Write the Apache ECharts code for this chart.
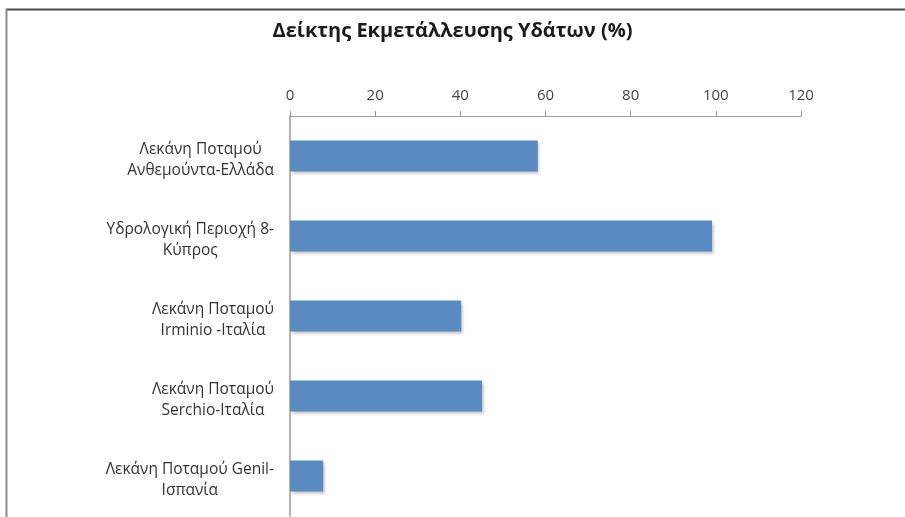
<!DOCTYPE html>
<html>
<head>
<meta charset="utf-8">
<script src="https://cdn.jsdelivr.net/npm/echarts@6/dist/echarts.min.js"></script>
<style>
  html, body { margin: 0; padding: 0; background: #fff; }
  #chart { width: 905px; height: 517px; }
</style>
</head>
<body>
<div id="chart"></div>
<script>
// Water exploitation index per river basin (%)
const titleText = 'Δείκτης Εκμετάλλευσης Υδάτων (%)';
const basins = [
  'Λεκάνη Ποταμού\nΑνθεμούντα-Ελλάδα',
  'Υδρολογική Περιοχή 8-\nΚύπρος',
  'Λεκάνη Ποταμού\nIrminio -Ιταλία',
  'Λεκάνη Ποταμού\nSerchio-Ιταλία',
  'Λεκάνη Ποταμού Genil-\nΙσπανία'
];
const indexValues = [58.2, 99.1, 40.2, 45.1, 7.8];
const axisMin = 0;
const axisMax = 120;
const axisStep = 20;

const chart = echarts.init(document.getElementById('chart'), null, { renderer: 'canvas' });
const fontFamily = '"Open Sans", "Noto Sans", sans-serif';

chart.setOption({
  backgroundColor: '#ffffff',
  animation: false,
  title: {
    text: titleText,
    left: 'center',
    top: 16,
    textStyle: { fontFamily: fontFamily, fontSize: 20, fontWeight: 'bold', color: '#1a1a1a' }
  },
  graphic: [
    { type: 'line', shape: { x1: 6, y1: 9.5, x2: 905, y2: 9.5 }, style: { stroke: '#4a4a4a', lineWidth: 2 } },
    { type: 'line', shape: { x1: 6.5, y1: 9, x2: 6.5, y2: 517 }, style: { stroke: '#8a8a8a', lineWidth: 2 } }
  ],
  grid: { left: 290, right: 104, top: 116, bottom: 1, containLabel: false },
  xAxis: {
    type: 'value',
    position: 'top',
    min: axisMin,
    max: axisMax,
    interval: axisStep,
    axisLine: { show: true, lineStyle: { color: '#9a9a9a', width: 1 } },
    axisTick: { show: true, length: 5, lineStyle: { color: '#9a9a9a' } },
    splitLine: { show: false },
    axisLabel: { fontFamily: fontFamily, fontSize: 15, color: '#444', margin: 13 }
  },
  yAxis: {
    type: 'category',
    data: basins,
    inverse: true,
    axisLine: { show: true, lineStyle: { color: '#9a9a9a', width: 1.5 } },
    axisTick: { show: false },
    axisLabel: {
      fontFamily: fontFamily, fontSize: 15.5, color: '#333', lineHeight: 21,
      align: 'right', margin: 16, padding: [8, 0, 0, 0],
      // lines of each label are centred on one another inside a right-aligned block
      formatter: function (value) { return '{c|' + value + '}'; },
      rich: {
        c: { align: 'center', fontFamily: fontFamily, fontSize: 15.5, color: '#333', lineHeight: 21 }
      }
    }
  },
  series: [{
    type: 'bar',
    data: indexValues,
    barWidth: 31,
    itemStyle: {
      color: '#5a8bc3',
      shadowColor: 'rgba(0,0,0,0.25)',
      shadowBlur: 3,
      shadowOffsetX: 1.5,
      shadowOffsetY: 2
    }
  }]
});
</script>
</body>
</html>
